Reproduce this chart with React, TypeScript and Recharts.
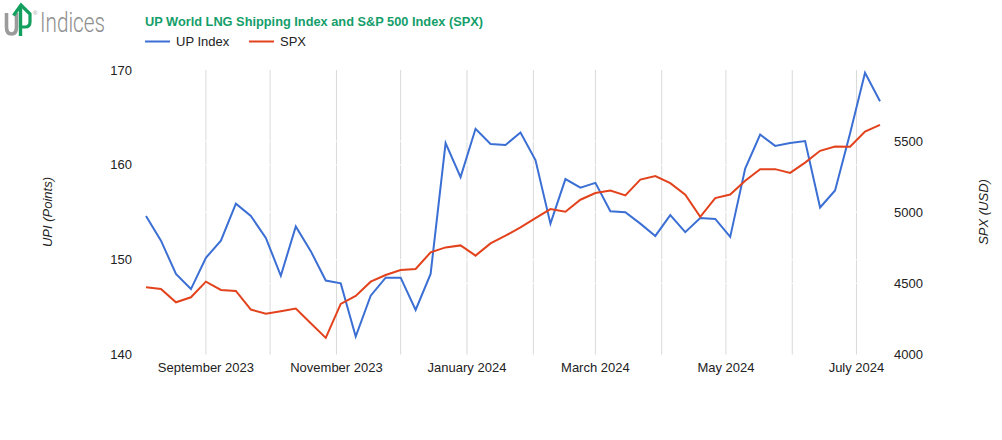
import React from 'react';
import { LineChart, Line, XAxis, YAxis, ReferenceLine } from 'recharts';

const dates: string[] = [
  '2023-08-04', '2023-08-11', '2023-08-18', '2023-08-25',
  '2023-09-01', '2023-09-08', '2023-09-15', '2023-09-22', '2023-09-29',
  '2023-10-06', '2023-10-13', '2023-10-20', '2023-10-27',
  '2023-11-03', '2023-11-10', '2023-11-17', '2023-11-24',
  '2023-12-01', '2023-12-08', '2023-12-15', '2023-12-22', '2023-12-29',
  '2024-01-05', '2024-01-12', '2024-01-19', '2024-01-26',
  '2024-02-02', '2024-02-09', '2024-02-16', '2024-02-23',
  '2024-03-01', '2024-03-08', '2024-03-15', '2024-03-22', '2024-03-29',
  '2024-04-05', '2024-04-12', '2024-04-19', '2024-04-26',
  '2024-05-03', '2024-05-10', '2024-05-17', '2024-05-24', '2024-05-31',
  '2024-06-07', '2024-06-14', '2024-06-21', '2024-06-28',
  '2024-07-05', '2024-07-12',
];

const upIndex: number[] = [
  154.6, 152.0, 148.5, 146.9, 150.2, 152.0, 155.9, 154.6, 152.3, 148.3,
  153.5, 150.9, 147.8, 147.5, 141.9, 146.2, 148.1, 148.1, 144.7, 148.5,
  162.3, 158.7, 163.8, 162.2, 162.1, 163.4, 160.5, 153.8, 158.5, 157.6,
  158.1, 155.1, 155.0, 153.8, 152.5, 154.7, 152.9, 154.4, 154.3, 152.4,
  159.6, 163.2, 162.0, 162.3, 162.5, 155.5, 157.3, 163.3, 169.7, 166.7,
];

const spx: number[] = [
  4472, 4461, 4367, 4402, 4512, 4454, 4447, 4316, 4286, 4304,
  4323, 4220, 4117, 4356, 4412, 4512, 4559, 4594, 4601, 4718,
  4753, 4767, 4695, 4781, 4835, 4893, 4959, 5022, 5004, 5088,
  5135, 5153, 5118, 5230, 5254, 5205, 5123, 4968, 5100, 5125,
  5221, 5303, 5303, 5277, 5349, 5432, 5462, 5460, 5567, 5614,
];

const monthTickDates: string[] = [
  '2023-09-01', '2023-10-01', '2023-11-01', '2023-12-01', '2024-01-01',
  '2024-02-01', '2024-03-01', '2024-04-01', '2024-05-01', '2024-06-01', '2024-07-01',
];
const monthTickLabels: string[] = [
  'September 2023', '', 'November 2023', '', 'January 2024',
  '', 'March 2024', '', 'May 2024', '', 'July 2024',
];

const leftTicks: number[] = [140, 150, 160, 170];
const rightTicks: number[] = [4000, 4500, 5000, 5500];

const toTs = (d: string) => Date.parse(d + 'T00:00:00Z');

const data = dates.map((d, i) => ({ t: toTs(d), up: upIndex[i], spx: spx[i] }));
const tickTs = monthTickDates.map(toTs);
const labelMap: Record<number, string> = {};
tickTs.forEach((t, i) => { labelMap[t] = monthTickLabels[i]; });

const FONT = "Arial, 'Liberation Sans', sans-serif";
const BLUE = '#3b6fd4';
const RED = '#e2421c';
const GREEN = '#149e6a';

export default function App() {
  return (
    <div style={{ position: 'absolute', left: 0, top: 0, width: 1002, height: 440, background: '#fff' }}>
      <LineChart
        width={1002}
        height={440}
        data={data}
        margin={{ top: 70, right: 0, bottom: 55.5, left: 0 }}
      >
        {tickTs.map((t) => (
          <ReferenceLine key={'g' + t} x={t} yAxisId="left" stroke="#d9d9d9" strokeWidth={1} />
        ))}
        <ReferenceLine yAxisId="left" y={150} stroke="#ffffff" strokeWidth={1} />
        <ReferenceLine yAxisId="left" y={160} stroke="#ffffff" strokeWidth={1} />
        <ReferenceLine yAxisId="right" y={4500} stroke="#ffffff" strokeWidth={1} />
        <ReferenceLine yAxisId="right" y={5000} stroke="#ffffff" strokeWidth={1} />
        <ReferenceLine yAxisId="right" y={5500} stroke="#ffffff" strokeWidth={1} />
        <XAxis
          dataKey="t"
          type="number"
          domain={[data[0].t, data[data.length - 1].t]}
          ticks={tickTs}
          interval={0}
          tickFormatter={(v: number) => labelMap[v] ?? ''}
          axisLine={false}
          tickLine={false}
          tickSize={0}
          tickMargin={8}
          height={30}
          tick={{ fontSize: 13, fill: '#222', fontFamily: FONT }}
        />
        <YAxis
          yAxisId="left"
          orientation="left"
          width={146}
          domain={[140, 170]}
          ticks={leftTicks}
          interval={0}
          axisLine={false}
          tickLine={false}
          tickSize={0}
          tickMargin={14}
          tick={{ fontSize: 13, fill: '#222', fontFamily: FONT }}
        />
        <YAxis
          yAxisId="right"
          orientation="right"
          width={122}
          domain={[4000, 6000]}
          ticks={rightTicks}
          interval={0}
          axisLine={false}
          tickLine={false}
          tickSize={0}
          tickMargin={14}
          tick={{ fontSize: 13, fill: '#222', fontFamily: FONT, textAnchor: 'start' }}
        />
        <Line
          yAxisId="left"
          type="linear"
          dataKey="up"
          name="UP Index"
          stroke={BLUE}
          strokeWidth={2}
          dot={false}
          activeDot={false}
          isAnimationActive={false}
        />
        <Line
          yAxisId="right"
          type="linear"
          dataKey="spx"
          name="SPX"
          stroke={RED}
          strokeWidth={2}
          dot={false}
          activeDot={false}
          isAnimationActive={false}
        />
      </LineChart>
      <svg
        width={1002}
        height={440}
        style={{ position: 'absolute', left: 0, top: 0, pointerEvents: 'none' }}
      >
        {/* Logo */}
        <path d="M6.5,13 V27 Q6.5,34 11.5,34 Q16.5,34 16.5,27 V13" fill="none" stroke="#9b9b9b" strokeWidth={3.6} />
        <path d="M20.5,36 V7" fill="none" stroke="#13a05e" strokeWidth={3.4} />
        <path d="M13.5,15.5 L21,5 L30,14 V22 Q30,27 25,27 H20.5" fill="none" stroke="#13a05e" strokeWidth={3.2} strokeLinejoin="miter" />
        <text x={33} y={15} fontSize={6} fill="#9b9b9b" fontFamily={FONT}>®</text>
        <text
          x={40}
          y={32}
          fontSize={28}
          fontWeight={300}
          fill="#8e8e8e"
          fontFamily="Roboto, 'Liberation Sans', sans-serif"
          textLength={65}
          lengthAdjust="spacingAndGlyphs"
        >
          Indices
        </text>
        {/* Title */}
        <text
          x={145}
          y={25.5}
          fontSize={13}
          fontWeight={700}
          fill={GREEN}
          fontFamily={FONT}
          textLength={338}
          lengthAdjust="spacingAndGlyphs"
        >
          UP World LNG Shipping Index and S&amp;P 500 Index (SPX)
        </text>
        {/* Legend */}
        <line x1={145} y1={41.5} x2={170} y2={41.5} stroke={BLUE} strokeWidth={2} />
        <text x={176} y={46} fontSize={13} fill="#222" fontFamily={FONT}>UP Index</text>
        <line x1={249} y1={41.5} x2={274} y2={41.5} stroke={RED} strokeWidth={2} />
        <text x={280} y={46} fontSize={13} fill="#222" fontFamily={FONT}>SPX</text>
        {/* Axis titles */}
        <text
          x={0}
          y={0}
          transform="translate(51.5,212) rotate(-90)"
          textAnchor="middle"
          fontSize={13}
          fontStyle="italic"
          fill="#222"
          fontFamily={FONT}
        >
          UPI (Points)
        </text>
        <text
          x={0}
          y={0}
          transform="translate(987.5,212) rotate(-90)"
          textAnchor="middle"
          fontSize={13}
          fontStyle="italic"
          fill="#222"
          fontFamily={FONT}
        >
          SPX (USD)
        </text>
      </svg>
    </div>
  );
}
